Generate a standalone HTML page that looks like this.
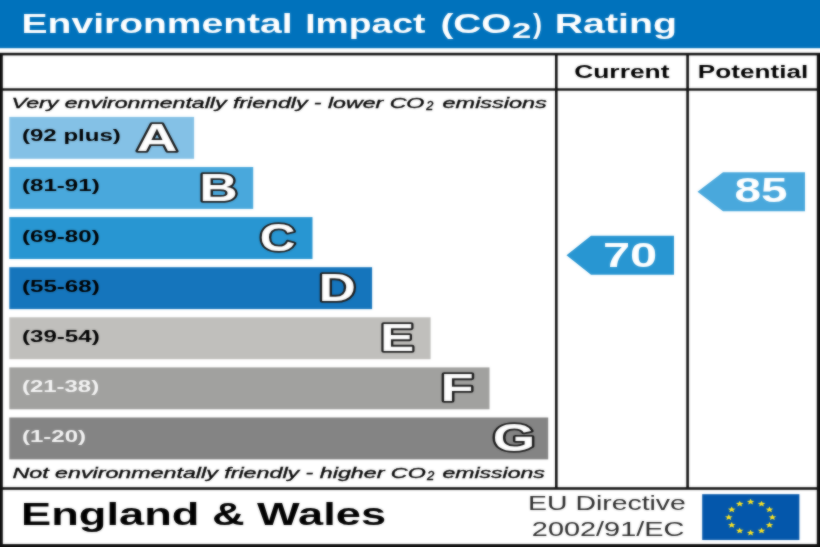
<!DOCTYPE html>
<html><head><meta charset="utf-8"><title>Environmental Impact (CO2) Rating</title>
<style>html,body{margin:0;padding:0;background:#fff}svg{display:block}text{font-family:"Liberation Sans",Arial,sans-serif}</style>
</head><body>
<svg width="820" height="547" viewBox="0 0 820 547">
<defs><filter id="soft" x="-2%" y="-2%" width="104%" height="104%" color-interpolation-filters="sRGB"><feGaussianBlur stdDeviation="0.8" result="b"/><feComposite in="SourceGraphic" in2="b" operator="arithmetic" k1="0" k2="0.45" k3="0.55" k4="0"/></filter></defs>
<g filter="url(#soft)">
<rect x="-10" y="-10" width="840" height="567" fill="#fff"/>
<rect x="-10" y="-10" width="840" height="58.2" fill="#0072bc"/>
<rect x="-10" y="52.8" width="840" height="2.6" fill="#111"/>
<rect x="-10" y="88.3" width="840" height="2.4" fill="#111"/>
<rect x="-10" y="487.2" width="840" height="2.6" fill="#111"/>
<rect x="-10" y="544.1" width="840" height="13.2" fill="#111"/>
<rect x="-10" y="53" width="12.8" height="504" fill="#111"/>
<rect x="816.8" y="53" width="13.2" height="504" fill="#111"/>
<rect x="555" y="53" width="2.6" height="435" fill="#111"/>
<rect x="686.3" y="53" width="2.6" height="435" fill="#111"/>
<text transform="translate(21.56,33.20) scale(1.4149,1)" font-size="27.6" font-weight="bold" font-style="normal" fill="#fff" >Environmental</text>
<text transform="translate(305.17,33.20) scale(1.3525,1)" font-size="27.6" font-weight="bold" font-style="normal" fill="#fff" >Impact</text>
<text transform="translate(440.38,33.20) scale(1.4074,1)" font-size="27.6" font-weight="bold" font-style="normal" fill="#fff" >(CO</text>
<text transform="translate(512.11,37.60) scale(1.5676,1)" font-size="22.2" font-weight="bold" font-style="normal" fill="#fff" >2</text>
<text transform="translate(532.90,33.20) scale(0.9886,1)" font-size="27.6" font-weight="bold" font-style="normal" fill="#fff" >)</text>
<text transform="translate(554.74,33.20) scale(1.4241,1)" font-size="27.6" font-weight="bold" font-style="normal" fill="#fff" >Rating</text>
<text transform="translate(574.17,77.50) scale(1.3752,1)" font-size="19.2" font-weight="bold" font-style="normal" fill="#000" >Current</text>
<text transform="translate(697.87,77.50) scale(1.3614,1)" font-size="19.2" font-weight="bold" font-style="normal" fill="#000" >Potential</text>
<text transform="translate(11.59,107.70) scale(1.5318,1)" font-size="15.1" font-weight="normal" font-style="italic" fill="#000" stroke="#000" stroke-width="0.35">Very environmentally friendly - lower CO</text>
<text transform="translate(426.20,110.40) scale(1.0667,1)" font-size="12" font-weight="normal" font-style="italic" fill="#000" stroke="#000" stroke-width="0.35">2</text>
<text transform="translate(442.57,107.70) scale(1.5537,1)" font-size="15.1" font-weight="normal" font-style="italic" fill="#000" stroke="#000" stroke-width="0.35">emissions</text>
<text transform="translate(12.44,477.80) scale(1.5394,1)" font-size="15.1" font-weight="normal" font-style="italic" fill="#000" stroke="#000" stroke-width="0.35">Not environmentally friendly - higher CO</text>
<text transform="translate(427.01,480.30) scale(1.0963,1)" font-size="12" font-weight="normal" font-style="italic" fill="#000" stroke="#000" stroke-width="0.35">2</text>
<text transform="translate(442.58,477.80) scale(1.5236,1)" font-size="15.1" font-weight="normal" font-style="italic" fill="#000" stroke="#000" stroke-width="0.35">emissions</text>
<rect x="9.3" y="116.9" width="184.8" height="41.9" fill="#84c1e6"/>
<text transform="translate(21.97,141.30) scale(1.5434,1)" font-size="15.6" font-weight="bold" font-style="normal" fill="#000" >(92 plus)</text>
<text transform="translate(136.62,150.70) scale(1.4468,1)" font-size="39.2" font-weight="bold" font-style="normal" fill="#fff" stroke="#1a1a1a" stroke-width="3.6" paint-order="stroke" stroke-linejoin="round">A</text>
<rect x="9.3" y="167.0" width="243.9" height="41.9" fill="#49a8dc"/>
<text transform="translate(21.97,191.40) scale(1.5471,1)" font-size="15.6" font-weight="bold" font-style="normal" fill="#000" >(81-91)</text>
<text transform="translate(199.22,200.80) scale(1.3594,1)" font-size="39.2" font-weight="bold" font-style="normal" fill="#fff" stroke="#1a1a1a" stroke-width="3.6" paint-order="stroke" stroke-linejoin="round">B</text>
<rect x="9.3" y="217.1" width="303.2" height="41.9" fill="#2896d2"/>
<text transform="translate(21.97,241.50) scale(1.5471,1)" font-size="15.6" font-weight="bold" font-style="normal" fill="#000" >(69-80)</text>
<text transform="translate(259.63,250.90) scale(1.2626,1)" font-size="39.2" font-weight="bold" font-style="normal" fill="#fff" stroke="#1a1a1a" stroke-width="3.6" paint-order="stroke" stroke-linejoin="round">C</text>
<rect x="9.3" y="267.2" width="362.8" height="41.9" fill="#1575bc"/>
<text transform="translate(21.97,291.60) scale(1.5471,1)" font-size="15.6" font-weight="bold" font-style="normal" fill="#000" >(55-68)</text>
<text transform="translate(318.65,301.00) scale(1.3096,1)" font-size="39.2" font-weight="bold" font-style="normal" fill="#fff" stroke="#1a1a1a" stroke-width="3.6" paint-order="stroke" stroke-linejoin="round">D</text>
<rect x="9.3" y="317.3" width="421.3" height="41.9" fill="#c0bfbc"/>
<text transform="translate(21.97,341.70) scale(1.5471,1)" font-size="15.6" font-weight="bold" font-style="normal" fill="#000" >(39-54)</text>
<text transform="translate(380.16,351.10) scale(1.2984,1)" font-size="39.2" font-weight="bold" font-style="normal" fill="#fff" stroke="#1a1a1a" stroke-width="3.6" paint-order="stroke" stroke-linejoin="round">E</text>
<rect x="9.3" y="367.4" width="480.2" height="41.9" fill="#a1a19f"/>
<text transform="translate(21.98,391.80) scale(1.5349,1)" font-size="15.6" font-weight="bold" font-style="normal" fill="#f4f4f4" >(21-38)</text>
<text transform="translate(440.40,401.20) scale(1.3858,1)" font-size="39.2" font-weight="bold" font-style="normal" fill="#fff" stroke="#1a1a1a" stroke-width="3.6" paint-order="stroke" stroke-linejoin="round">F</text>
<rect x="9.3" y="417.5" width="538.9" height="41.9" fill="#848484"/>
<text transform="translate(21.97,441.90) scale(1.5403,1)" font-size="15.6" font-weight="bold" font-style="normal" fill="#f4f4f4" >(1-20)</text>
<text transform="translate(492.80,451.30) scale(1.3944,1)" font-size="39.2" font-weight="bold" font-style="normal" fill="#fff" stroke="#1a1a1a" stroke-width="3.6" paint-order="stroke" stroke-linejoin="round">G</text>
<polygon points="697.5,191.7 723,172.2 805,172.2 805,211.2 723,211.2" fill="#49a8dc"/>
<text transform="translate(734.51,202.00) scale(1.3872,1)" font-size="34.4" font-weight="bold" font-style="normal" fill="#fff" >85</text>
<polygon points="566.5,255.3 591,235.8 674,235.8 674,274.8 591,274.8" fill="#2896d2"/>
<text transform="translate(602.97,267.40) scale(1.4192,1)" font-size="34.4" font-weight="bold" font-style="normal" fill="#fff" >70</text>
<text transform="translate(21.07,525.20) scale(1.4127,1)" font-size="32" font-weight="bold" font-style="normal" fill="#000" >England &amp; Wales</text>
<text transform="translate(528.08,510.40) scale(1.3792,1)" font-size="20.6" font-weight="normal" font-style="normal" fill="#2a2a2a" >EU Directive</text>
<text transform="translate(531.85,535.70) scale(1.4030,1)" font-size="20.6" font-weight="normal" font-style="normal" fill="#2a2a2a" >2002/91/EC</text>
<rect x="702.2" y="494.2" width="97.2" height="45.8" fill="#0457ab"/>
<polygon points="750.60,498.80 751.67,500.77 754.43,500.94 752.32,502.33 752.97,504.41 750.60,503.29 748.23,504.41 748.88,502.33 746.77,500.94 749.53,500.77" fill="#ffe61e"/>
<polygon points="761.50,500.88 762.57,502.85 765.33,503.02 763.22,504.41 763.87,506.48 761.50,505.37 759.13,506.48 759.78,504.41 757.67,503.02 760.43,502.85" fill="#ffe61e"/>
<polygon points="769.48,506.55 770.55,508.52 773.31,508.69 771.20,510.08 771.85,512.16 769.48,511.04 767.11,512.16 767.75,510.08 765.65,508.69 768.41,508.52" fill="#ffe61e"/>
<polygon points="772.40,514.30 773.47,516.27 776.23,516.44 774.12,517.83 774.77,519.91 772.40,518.79 770.03,519.91 770.68,517.83 768.57,516.44 771.33,516.27" fill="#ffe61e"/>
<polygon points="769.48,522.05 770.55,524.02 773.31,524.19 771.20,525.58 771.85,527.66 769.48,526.54 767.11,527.66 767.75,525.58 765.65,524.19 768.41,524.02" fill="#ffe61e"/>
<polygon points="761.50,527.72 762.57,529.69 765.33,529.87 763.22,531.25 763.87,533.33 761.50,532.22 759.13,533.33 759.78,531.25 757.67,529.87 760.43,529.69" fill="#ffe61e"/>
<polygon points="750.60,529.80 751.67,531.77 754.43,531.94 752.32,533.33 752.97,535.41 750.60,534.29 748.23,535.41 748.88,533.33 746.77,531.94 749.53,531.77" fill="#ffe61e"/>
<polygon points="739.70,527.72 740.77,529.69 743.53,529.87 741.42,531.25 742.07,533.33 739.70,532.22 737.33,533.33 737.98,531.25 735.87,529.87 738.63,529.69" fill="#ffe61e"/>
<polygon points="731.72,522.05 732.79,524.02 735.55,524.19 733.45,525.58 734.09,527.66 731.72,526.54 729.35,527.66 730.00,525.58 727.89,524.19 730.65,524.02" fill="#ffe61e"/>
<polygon points="728.80,514.30 729.87,516.27 732.63,516.44 730.52,517.83 731.17,519.91 728.80,518.79 726.43,519.91 727.08,517.83 724.97,516.44 727.73,516.27" fill="#ffe61e"/>
<polygon points="731.72,506.55 732.79,508.52 735.55,508.69 733.45,510.08 734.09,512.16 731.72,511.04 729.35,512.16 730.00,510.08 727.89,508.69 730.65,508.52" fill="#ffe61e"/>
<polygon points="739.70,500.88 740.77,502.85 743.53,503.02 741.42,504.41 742.07,506.48 739.70,505.37 737.33,506.48 737.98,504.41 735.87,503.02 738.63,502.85" fill="#ffe61e"/>
</g>
</svg>
</body></html>
